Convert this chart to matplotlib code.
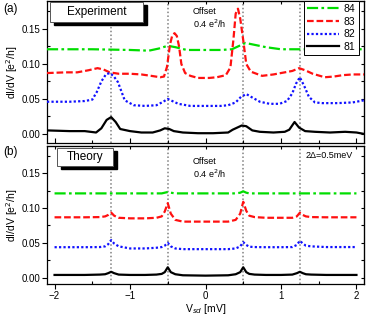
import numpy as np
import matplotlib
matplotlib.use('Agg')
import matplotlib.pyplot as plt
from matplotlib.patches import Rectangle
from matplotlib.ticker import MultipleLocator

plt.rcParams['font.family'] = ['Liberation Sans', 'DejaVu Sans']

# Experiment (a), offset 0.04 e^2/h between traces
exp_v81 = [-2.1, -1.8, -1.6, -1.45, -1.38, -1.31, -1.25, -1.19, -1.13, -1.0, -0.85, -0.7, -0.6, -0.54,
           -0.48, -0.42, -0.3, -0.1, 0.1, 0.3, 0.36, 0.42, 0.48, 0.54, 0.62, 0.72, 0.9, 1.05, 1.11, 1.18,
           1.24, 1.32, 1.45, 1.65, 1.85, 2.0, 2.1]
exp_g81 = [0.005, 0.004, 0.004, 0.002, 0.008, 0.020, 0.024, 0.017, 0.007, 0.004, 0.002, 0.002, 0.005, 0.008,
           0.007, 0.004, 0.002, 0.001, 0.001, 0.002, 0.006, 0.009, 0.012, 0.011, 0.005, 0.003, 0.002, 0.003,
           0.006, 0.017, 0.009, 0.004, 0.003, 0.002, 0.003, 0.002, 0.000]

exp_v82 = [-2.1, -1.8, -1.6, -1.5, -1.44, -1.38, -1.32, -1.27, -1.22, -1.16, -1.07, -0.95, -0.8, -0.65,
           -0.56, -0.5, -0.44, -0.36, -0.2, 0.0, 0.2, 0.3, 0.4, 0.47, 0.54, 0.62, 0.72, 0.85, 0.98, 1.08,
           1.15, 1.2, 1.25, 1.31, 1.37, 1.45, 1.55, 1.75, 1.95, 2.1]
exp_g82 = [0.046, 0.046, 0.047, 0.049, 0.060, 0.075, 0.085, 0.087, 0.083, 0.074, 0.048, 0.041, 0.040, 0.041,
           0.046, 0.050, 0.047, 0.043, 0.040, 0.040, 0.040, 0.041, 0.045, 0.053, 0.057, 0.052, 0.046, 0.043,
           0.043, 0.047, 0.058, 0.072, 0.081, 0.068, 0.053, 0.045, 0.044, 0.044, 0.045, 0.048]

exp_v83 = [-2.1, -1.85, -1.7, -1.55, -1.43, -1.35, -1.27, -1.15, -1.0, -0.85, -0.72, -0.6, -0.55, -0.51,
           -0.47, -0.44, -0.41, -0.38, -0.35, -0.32, -0.27, -0.2, -0.1, 0.05, 0.15, 0.27, 0.33, 0.37, 0.4,
           0.43, 0.46, 0.5, 0.54, 0.6, 0.75, 0.9, 1.05, 1.15, 1.24, 1.32, 1.42, 1.58, 1.7, 1.82, 1.95, 2.1]
exp_g83 = [0.087, 0.088, 0.088, 0.091, 0.094, 0.092, 0.088, 0.086, 0.086, 0.085, 0.083, 0.081, 0.082, 0.096,
           0.128, 0.141, 0.144, 0.140, 0.125, 0.100, 0.087, 0.083, 0.080, 0.080, 0.081, 0.084, 0.095, 0.135,
           0.172, 0.179, 0.165, 0.134, 0.100, 0.089, 0.083, 0.085, 0.088, 0.090, 0.094, 0.091, 0.086, 0.081,
           0.082, 0.084, 0.085, 0.085]

exp_v84 = [-2.1, -1.5, -1.0, -0.75, -0.62, -0.5, -0.4, -0.25, 0.0, 0.2, 0.35, 0.45, 0.53, 0.62, 0.8, 1.0, 1.5, 2.1]
exp_g84 = [0.121, 0.121, 0.120, 0.119, 0.122, 0.126, 0.124, 0.120, 0.120, 0.120, 0.121, 0.126, 0.130, 0.128,
           0.124, 0.121, 0.121, 0.121]

# Theory (b), 2*Delta = 0.5 meV
th_v = [-2.0, -1.6, -1.4, -1.33, -1.29, -1.25, -1.21, -1.15, -1.0, -0.8, -0.65, -0.58, -0.54, -0.5, -0.46,
        -0.4, -0.3, 0.0, 0.3, 0.4, 0.46, 0.5, 0.54, 0.58, 0.65, 0.8, 1.0, 1.15, 1.21, 1.25, 1.29, 1.33, 1.4,
        1.6, 2.0]
th_g81 = [0.004, 0.004, 0.0045, 0.005, 0.0065, 0.0085, 0.0065, 0.0045, 0.004, 0.004, 0.0045, 0.0055, 0.008,
          0.015, 0.008, 0.005, 0.0035, 0.003, 0.0035, 0.005, 0.008, 0.015, 0.008, 0.0055, 0.0045, 0.004,
          0.004, 0.0045, 0.0065, 0.0085, 0.0065, 0.005, 0.0045, 0.004, 0.004]
th_g82 = [0.0438, 0.0438, 0.044, 0.045, 0.048, 0.054, 0.049, 0.045, 0.042, 0.042, 0.043, 0.044, 0.046, 0.050,
          0.045, 0.042, 0.041, 0.041, 0.041, 0.042, 0.045, 0.051, 0.047, 0.0445, 0.044, 0.0438, 0.0438, 0.044,
          0.047, 0.053, 0.049, 0.046, 0.045, 0.044, 0.044]
th_g83 = [0.0867, 0.0867, 0.087, 0.088, 0.090, 0.0935, 0.089, 0.086, 0.0852, 0.0852, 0.086, 0.088, 0.095,
          0.107, 0.092, 0.083, 0.0805, 0.0805, 0.0805, 0.083, 0.092, 0.109, 0.096, 0.089, 0.087, 0.086, 0.086,
          0.086, 0.088, 0.0933, 0.090, 0.088, 0.087, 0.0867, 0.0867]
th_g84 = [0.121, 0.121, 0.121, 0.121, 0.121, 0.121, 0.121, 0.121, 0.121, 0.121, 0.121, 0.121, 0.122, 0.123,
          0.122, 0.121, 0.121, 0.121, 0.121, 0.121, 0.122, 0.124, 0.122, 0.121, 0.121, 0.121, 0.121, 0.121,
          0.121, 0.121, 0.121, 0.121, 0.121, 0.121, 0.121]

gap_lines = [-1.25, -0.5, 0.5, 1.25]
labels = ['84', '83', '82', '81']

# line styles for 84, 83, 82, 81
styles = {
    '84': dict(color='#00dd00', ls=(0, (5, 1.5, 1.2, 1.5))),
    '83': dict(color='#ff1010', ls=(0, (3, 1.3))),
    '82': dict(color='#1010ff', ls=(0, (1, 1))),
    '81': dict(color='black', ls='-'),
}

fig = plt.figure(figsize=(3.66, 3.16), dpi=100)
ax1 = fig.add_axes([47/366, 1 - 143/316, 317/366, 142/316])
ax2 = fig.add_axes([47/366, 1 - 284/316, 317/366, 138/316])


def style_axes(ax, ylo, yhi):
    ax.set_xlim(-2.1, 2.1)
    ax.set_ylim(ylo, yhi)
    ax.xaxis.set_major_locator(MultipleLocator(1))
    ax.xaxis.set_minor_locator(MultipleLocator(0.5))
    ax.yaxis.set_major_locator(MultipleLocator(0.05))
    ax.yaxis.set_minor_locator(MultipleLocator(0.025))
    ax.tick_params(which='major', direction='out', length=3.5, width=0.8, labelsize=7, pad=1.5)
    ax.tick_params(which='minor', direction='in', length=2.5, width=0.8)
    ax.tick_params(axis='x', which='both', top=False)
    ax.yaxis.set_major_formatter(matplotlib.ticker.FormatStrFormatter('%.2f'))
    for s in ax.spines.values():
        s.set_linewidth(0.9)
    sy = ax.secondary_yaxis('right')
    sy.yaxis.set_major_locator(MultipleLocator(0.025))
    sy.tick_params(direction='in', length=2.5, width=0.8, labelright=False)
    sx = ax.secondary_xaxis('top')
    sx.xaxis.set_major_locator(MultipleLocator(0.5))
    sx.tick_params(direction='in', length=2.5, width=0.8, labeltop=False)
    for x in gap_lines:
        ax.axvline(x, color='#808080', ls=(0, (1, 1.5)), lw=1.1, zorder=1)
    ax.set_ylabel('dI/dV [e$^2$/h]', fontsize=7.5, labelpad=1)


def shadow_box(ax, x0, y0, x1, y1, dx, dy, text, fs):
    ax.add_patch(Rectangle((x0 + dx, y0 - dy), x1 - x0, y1 - y0, transform=ax.transAxes,
                           facecolor='black', edgecolor='black', zorder=5, clip_on=False))
    ax.add_patch(Rectangle((x0, y0), x1 - x0, y1 - y0, transform=ax.transAxes,
                           facecolor='white', edgecolor='#555555', lw=0.7, zorder=6, clip_on=False))
    ax.text((x0 + x1) / 2, (y0 + y1) / 2, text, transform=ax.transAxes, ha='center', va='center',
            fontsize=fs, zorder=7)


def offset_note(ax, y1, y2):
    ax.text(0.459, y1, 'Offset', transform=ax.transAxes, ha='left', va='center', fontsize=6.5)
    ax.text(0.459, y2, '0.4 e$^2$/h', transform=ax.transAxes, ha='left', va='center', fontsize=6.5)


style_axes(ax1, -0.013, 0.19)
style_axes(ax2, -0.009, 0.189)
ax1.tick_params(axis='x', which='both', labelbottom=False, direction='in')

exp_data = {'84': (exp_v84, exp_g84), '83': (exp_v83, exp_g83), '82': (exp_v82, exp_g82), '81': (exp_v81, exp_g81)}
th_data = {'84': th_g84, '83': th_g83, '82': th_g82, '81': th_g81}

for lab in labels:
    v, g = exp_data[lab]
    ax1.plot(v, g, lw=1.6, label=lab, zorder=3, **styles[lab])
    ax2.plot(th_v, th_data[lab], lw=1.6, zorder=3, **styles[lab])

leg = ax1.legend(loc='upper right', bbox_to_anchor=(0.983, 1.0), borderaxespad=0, fontsize=7.5,
                 handlelength=3.0, handletextpad=0.5, labelspacing=0.25, borderpad=0.3,
                 fancybox=False, framealpha=1, edgecolor='black')
leg.get_frame().set_linewidth(0.7)

shadow_box(ax1, 0.01, 0.85, 0.303, 0.995, 0.011, 0.022, 'Experiment', 8.5)
shadow_box(ax2, 0.033, 0.857, 0.209, 0.983, 0.011, 0.022, 'Theory', 8.5)

offset_note(ax1, 0.925, 0.84)
offset_note(ax2, 0.89, 0.80)
ax2.text(0.816, 0.93, '2\u0394=0.5meV', transform=ax2.transAxes, ha='left', va='center', fontsize=6.5)

ax2.set_xlabel('V$_{sd}$ [mV]', fontsize=7.5, labelpad=1)

fig.text(3/366, 1 - 9/316, '(a)', fontsize=8.5, va='center', ha='left')
fig.text(3/366, 1 - 152/316, '(b)', fontsize=8.5, va='center', ha='left')

fig.savefig('out.png', dpi=100)
